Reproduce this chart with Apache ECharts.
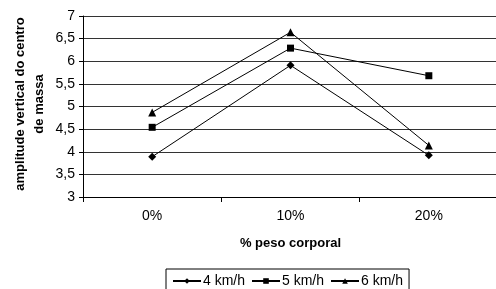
<!DOCTYPE html>
<html><head><meta charset="utf-8">
<script src="https://cdn.jsdelivr.net/npm/echarts@6/dist/echarts.min.js"></script>
<style>html,body{margin:0;padding:0;background:#fff}#c{width:496px;height:289px}</style>
</head><body><div id="c"></div>
<script>
const categories = ['0%', '10%', '20%'];
const s4 = [3.89, 5.91, 3.92];
const s5 = [4.54, 6.29, 5.68];
const s6 = [4.87, 6.64, 4.14];
const yTitle = 'amplitude vertical do centro\nde massa';
const xTitle = '% peso corporal';
const F = 'Liberation Sans, Arial, sans-serif';
const chart = echarts.init(document.getElementById('c'));
function ser(name, data, sym, size){
  return {name, type:'line', data, symbol:sym, symbolSize:size,
    lineStyle:{color:'#000', width:1}, itemStyle:{color:'#000'}, emphasis:{disabled:true}};
}
chart.setOption({
  animation:false,
  grid:{left:83, top:16, width:415, height:181, containLabel:false, outerBoundsMode:'none'},
  graphic:[{type:'text', x:29.5, y:104, rotation:Math.PI/2,
    style:{text:yTitle, align:'center', verticalAlign:'middle', fill:'#000',
      font:'bold 13px ' + F, lineHeight:19}}],
  xAxis:{type:'category', data:categories, boundaryGap:true,
    axisLine:{lineStyle:{color:'#000'}}, axisTick:{show:true, length:5, lineStyle:{color:'#000'}},
    axisLabel:{color:'#000', fontFamily:F, fontSize:14, margin:12},
    name:xTitle, nameLocation:'middle', nameGap:40,
    nameTextStyle:{color:'#000', fontFamily:F, fontSize:13, fontWeight:'bold'}},
  yAxis:{type:'value', min:3, max:7, interval:0.5,
    axisLine:{show:true, lineStyle:{color:'#000'}}, axisTick:{show:true, length:4, lineStyle:{color:'#000'}},
    splitLine:{lineStyle:{color:'#333', width:1}},
    axisLabel:{color:'#000', fontFamily:F, fontSize:14, margin:8,
      formatter:v=>String(v).replace('.',',')}},
  legend:{top:269, left:166, itemGap:6, itemWidth:28, itemHeight:7,
    borderColor:'#000', borderWidth:1, padding:[5,6,5,6], borderRadius:0,
    textStyle:{color:'#000', fontFamily:F, fontSize:14, padding:[0,0,0,-3]},
    data:['4 km/h','5 km/h','6 km/h']},
  series:[ser('4 km/h', s4, 'diamond', 8), ser('5 km/h', s5, 'rect', 7), ser('6 km/h', s6, 'triangle', 8)]
});
</script></body></html>
